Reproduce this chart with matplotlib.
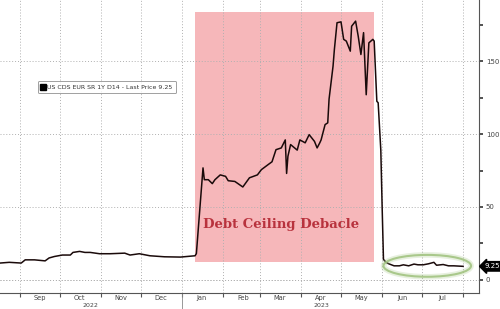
"""
US 1Y CDS - Debt Ceiling Debacle
"""
import matplotlib
matplotlib.use('Agg')
import matplotlib.pyplot as plt
import matplotlib.dates as mdates
import matplotlib.transforms as mtrans
from matplotlib.patches import Rectangle, Ellipse
from matplotlib.lines import Line2D
import numpy as np
import pandas as pd

# ###
# Data
# ###
DATES = ['2022-08-17', '2022-08-24', '2022-09-02', '2022-09-05', '2022-09-12', '2022-09-20',
         '2022-09-23', '2022-09-27', '2022-10-03', '2022-10-09', '2022-10-11', '2022-10-16',
         '2022-10-20', '2022-10-24', '2022-10-31', '2022-11-08', '2022-11-19', '2022-11-23',
         '2022-11-30', '2022-12-08', '2022-12-19', '2022-12-31', '2023-01-11', '2023-01-12',
         '2023-01-17', '2023-01-18', '2023-01-21', '2023-01-24', '2023-01-26', '2023-01-30',
         '2023-02-03', '2023-02-05', '2023-02-10', '2023-02-16', '2023-02-21', '2023-02-27',
         '2023-03-02', '2023-03-07', '2023-03-10', '2023-03-13', '2023-03-17', '2023-03-20',
         '2023-03-21', '2023-03-22', '2023-03-24', '2023-03-29', '2023-03-31', '2023-04-04',
         '2023-04-07', '2023-04-11', '2023-04-13', '2023-04-15', '2023-04-16', '2023-04-19',
         '2023-04-21', '2023-04-22', '2023-04-25', '2023-04-26', '2023-04-28', '2023-05-01',
         '2023-05-03', '2023-05-05', '2023-05-08', '2023-05-09', '2023-05-12', '2023-05-14',
         '2023-05-16', '2023-05-18', '2023-05-20', '2023-05-22', '2023-05-25', '2023-05-26',
         '2023-05-28', '2023-05-29', '2023-05-31', '2023-06-01', '2023-06-02', '2023-06-04',
         '2023-06-06', '2023-06-10', '2023-06-14', '2023-06-17', '2023-06-21', '2023-06-25',
         '2023-06-28', '2023-07-02', '2023-07-06', '2023-07-10', '2023-07-12', '2023-07-17',
         '2023-07-21', '2023-07-25', '2023-08-01']
CDS = [11.5, 12.0, 11.5, 13.7, 13.7, 13.0,
       15.0, 16.0, 17.0, 17.0, 18.8, 19.5,
       18.8, 18.8, 17.9, 17.9, 18.3, 17.0,
       17.9, 16.5, 15.8, 15.6, 16.5, 18.0,
       76.8, 68.7, 68.7, 66.0, 68.7, 72.0,
       71.0, 68.0, 67.5, 63.7, 70.0, 72.0,
       75.6, 79.0, 81.0, 89.3, 90.5, 96.0,
       73.0, 84.8, 92.8, 89.0, 96.0, 94.0,
       99.6, 95.0, 90.5, 94.0, 96.0, 106.5,
       107.7, 124.0, 146.6, 158.0, 176.4, 177.0,
       165.0, 163.8, 156.9, 174.0, 177.5, 167.0,
       154.6, 169.6, 127.0, 162.6, 165.0, 163.8,
       122.5, 121.5, 89.0, 50.0, 14.0, 12.0,
       11.0, 9.6, 9.6, 10.3, 9.6, 10.8,
       10.3, 10.3, 11.0, 12.0, 10.0, 10.5,
       9.6, 9.6, 9.25]

SHADE_START, SHADE_END = '2023-01-11', '2023-05-26'
SHADE_LOW, SHADE_HIGH  = 12, 184
LEGEND_LABEL = 'US CDS EUR SR 1Y D14 - Last Price 9.25'
LAST_PRICE   = 9.25
Y_TICKS      = [0, 50, 100, 150]

# ###
# Plot setting
# ###
COLOR_LINE  = '#1a0a0a'
COLOR_SHADE = '#f6b7ba'
COLOR_GRID  = '#b0b0b0'
COLOR_TEXT  = '#444444'

fig = plt.figure(figsize=(5.0, 3.09), dpi=100, facecolor='w')
ax = fig.add_axes([0.0, 0.052, 0.958, 0.948])

x = pd.to_datetime(DATES)
x0, x1 = pd.Timestamp(SHADE_START), pd.Timestamp(SHADE_END)
ax.add_patch(Rectangle((mdates.date2num(x0), SHADE_LOW),
                       mdates.date2num(x1) - mdates.date2num(x0), SHADE_HIGH - SHADE_LOW,
                       facecolor=COLOR_SHADE, edgecolor='none', zorder=1))
ax.plot(x, CDS, color=COLOR_LINE, lw=1.1, zorder=3)

# Green ellipse around the post-deal level
ec = mdates.date2num(pd.Timestamp('2023-07-05'))
for lw, a in [(4.0, 0.25), (1.5, 0.9)]:
    ax.add_patch(Ellipse((ec, 9.6), 66, 15, facecolor='none', edgecolor='#a3c482',
                         lw=lw, alpha=a, zorder=4))

ax.text(mdates.date2num(pd.Timestamp('2023-03-17')), 38, 'Debt Ceiling Debacle',
        family='DejaVu Serif', fontweight='bold', fontsize=9.5, color='#b8323d',
        ha='center', va='center', zorder=5)

# Axis limits
ax.set_xlim(pd.Timestamp('2022-08-17'), pd.Timestamp('2023-08-13'))
ax.set_ylim(-9, 192)

# Y axis on the right
ax.yaxis.tick_right()
ax.set_yticks(Y_TICKS)
ax.set_yticks([25, 75, 125, 175], minor=True)
ax.tick_params(axis='y', which='both', direction='out', length=3, width=1.2,
               color='#333333', labelsize=5, labelcolor=COLOR_TEXT, pad=2)

# X axis: month boundaries as ticks, labels at mid-month
ax.xaxis.set_major_locator(mdates.MonthLocator())
ax.xaxis.set_major_formatter(plt.NullFormatter())
ax.xaxis.set_minor_locator(mdates.MonthLocator(bymonthday=16))
ax.xaxis.set_minor_formatter(mdates.DateFormatter('%b'))
ax.tick_params(axis='x', which='major', direction='out', length=3, width=0.8, color='#555555')
ax.tick_params(axis='x', which='minor', length=0, labelsize=4.8, labelcolor=COLOR_TEXT, pad=1.5)

ax.grid(True, which='major', axis='x', linestyle=(0, (1, 2)), color=COLOR_GRID, lw=0.7)
ax.grid(True, which='major', axis='y', linestyle=(0, (1, 2)), color=COLOR_GRID, lw=0.7)
ax.axhline(0, linestyle=(0, (1, 2)), color=COLOR_GRID, lw=0.7, zorder=0)

for s in ['left', 'top']:
    ax.spines[s].set_visible(False)
for s in ['right', 'bottom']:
    ax.spines[s].set_color('#555555')
    ax.spines[s].set_linewidth(0.8)

# Year labels and divider
trans = mtrans.blended_transform_factory(ax.transData, ax.transAxes)
ax.text(mdates.date2num(pd.Timestamp('2022-10-24')), -0.042, '2022', transform=trans,
        fontsize=4.5, color=COLOR_TEXT, ha='center', va='center')
ax.text(mdates.date2num(pd.Timestamp('2023-04-16')), -0.042, '2023', transform=trans,
        fontsize=4.5, color=COLOR_TEXT, ha='center', va='center')
jan = mdates.date2num(pd.Timestamp('2023-01-01'))
ax.add_line(Line2D([jan, jan], [0, -0.06], transform=trans, color='#888888', lw=0.6, clip_on=False))

# Legend
handle = Line2D([], [], color='black', marker='s', markersize=4, linestyle='none')
leg = ax.legend([handle], [LEGEND_LABEL], loc='center left', bbox_to_anchor=(0.073, 0.703),
                fontsize=4.5, frameon=True, handlelength=0.6, handletextpad=0.4,
                borderpad=0.5, fancybox=True)
leg.get_frame().set_edgecolor('#888888')
leg.get_frame().set_linewidth(0.7)
for t in leg.get_texts():
    t.set_color('#333333')

# Last price tag
ytrans = mtrans.blended_transform_factory(ax.transAxes, ax.transData)
ax.text(1.012, LAST_PRICE, '%.2f' % LAST_PRICE, transform=ytrans, fontsize=5, color='white',
        ha='left', va='center',
        bbox=dict(boxstyle='larrow,pad=0.25', fc='black', ec='black'))

plt.savefig('out.png', dpi=100, facecolor='w')
plt.close(fig)
